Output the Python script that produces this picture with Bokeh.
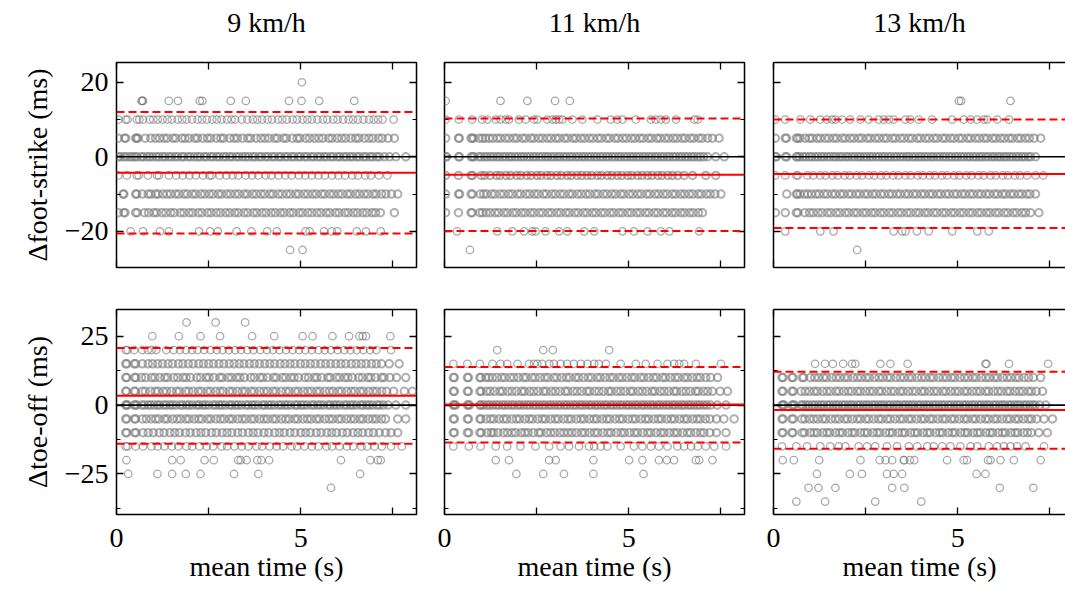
from bokeh.plotting import figure
from bokeh.layouts import column, row
from bokeh.models import LinearAxis, FixedTicker, Range1d, Span, ColumnDataSource
from bokeh.embed import file_html
from bokeh.resources import INLINE

FONT = "Liberation Serif"
FS = "28px"

titles = ["9 km/h", "11 km/h", "13 km/h"]
ylabels = ["Δfoot-strike (ms)", "Δtoe-off (ms)"]
xlabel = "mean time (s)"

x_ticks = [0, 2.5, 5, 7.5]
x_tick_labels = {0: "0", 2.5: "", 5: "5", 7.5: ""}
fs_ticks = [-20, 0, 20]
fs_minor = [-10, 10]
fs_tick_labels = {-20: "−20", 0: "0", 20: "20"}
to_ticks = [-25, 0, 25]
to_minor = [-37.5, -12.5, 12.5]
to_tick_labels = {-25: "−25", 0: "0", 25: "25"}
fs_yrange = (-29.7, 25.3)
to_yrange = (-39.7, 34.7)
x_full = 8.14

# mean difference (bias) and limits of agreement, per speed
fs_bias = [-4.3, -4.8, -4.6]
fs_upper = [12.0, 10.3, 10.0]
fs_lower = [-20.6, -19.9, -19.1]
to_bias = [3.4, 0.2, -1.8]
to_upper = [20.7, 13.8, 12.1]
to_lower = [-14.0, -13.6, -15.8]

# ---------------- foot-strike, 9 km/h ----------------
fs9_p20 = [5.03]
fs9_p15 = [0.68, 0.70, 0.72, 1.42, 1.67, 2.26, 2.33, 3.10, 3.51, 4.68, 5.02, 5.50, 6.45]
fs9_p10 = [0.05, 0.25, 0.30, 0.55, 0.62, 0.72, 0.9, 1.0, 1.12, 1.25, 1.38, 1.5, 1.66, 1.78, 1.9, 2.05, 2.2, 2.32, 2.45, 2.6, 2.72, 2.85, 3.0, 3.12, 3.22, 3.4, 3.55, 3.7, 3.82, 3.95, 4.1, 4.22, 4.38, 4.5, 4.62, 4.78, 4.9, 5.05, 5.18, 5.3, 5.45, 5.6, 5.72, 5.88, 6.0, 6.15, 6.3, 6.42, 6.55, 6.7, 6.85, 6.98, 7.1, 7.22, 7.52]
fs9_p5 = [0.05, 0.22, 0.25, 0.52, 0.55, 0.58, 0.78, 0.93, 1.06, 1.17, 1.29, 1.38, 1.53, 1.61, 1.77, 1.86, 1.97, 2.12, 2.2, 2.34, 2.47, 2.56, 2.71, 2.83, 2.91, 3.07, 3.19, 3.28, 3.42, 3.56, 3.64, 3.79, 3.92, 4.03, 4.14, 4.29, 4.37, 4.53, 4.61, 4.77, 4.9, 4.98, 5.13, 5.24, 5.37, 5.49, 5.6, 5.76, 5.85, 5.99, 6.11, 6.22, 6.36, 6.49, 6.58, 6.73, 6.85, 6.96, 7.11, 7.21, 7.37, 7.54]
fs9_z0 = [0.05, 0.11, 0.2, 0.27, 0.36, 0.43, 0.5, 0.56, 0.67, 0.73, 0.83, 0.9, 0.98, 1.08, 1.15, 1.25, 1.32, 1.42, 1.49, 1.59, 1.66, 1.77, 1.83, 1.94, 2.01, 2.11, 2.2, 2.27, 2.38, 2.44, 2.55, 2.62, 2.72, 2.79, 2.9, 2.97, 3.07, 3.14, 3.25, 3.32, 3.42, 3.5, 3.58, 3.69, 3.76, 3.87, 3.93, 4.04, 4.11, 4.22, 4.29, 4.4, 4.46, 4.57, 4.64, 4.75, 4.82, 4.93, 4.99, 5.1, 5.17, 5.28, 5.35, 5.46, 5.53, 5.63, 5.7, 5.81, 5.88, 5.99, 6.06, 6.17, 6.24, 6.34, 6.41, 6.52, 6.59, 6.7, 6.77, 6.88, 6.95, 7.06, 7.13, 7.27, 7.41, 7.58, 7.85]
fs9_m5 = [0.05, 0.28, 0.55, 0.6, 0.85, 1.1, 1.15, 1.42, 1.62, 1.8, 1.98, 2.15, 2.35, 2.52, 2.58, 2.8, 2.98, 3.15, 3.3, 3.5, 3.68, 3.85, 4.05, 4.2, 4.4, 4.58, 4.75, 4.95, 5.12, 5.3, 5.48, 5.65, 5.85, 6.02, 6.2, 6.4, 6.55, 6.75, 6.9, 7.12, 7.35]
fs9_m10 = [0.18, 0.2, 0.52, 0.55, 0.7, 0.86, 0.93, 1.06, 1.13, 1.26, 1.37, 1.47, 1.6, 1.69, 1.83, 1.92, 2.06, 2.15, 2.29, 2.39, 2.52, 2.62, 2.76, 2.85, 2.99, 3.09, 3.22, 3.32, 3.46, 3.55, 3.69, 3.79, 3.92, 4.02, 4.16, 4.25, 4.39, 4.49, 4.62, 4.72, 4.86, 4.95, 5.09, 5.19, 5.32, 5.42, 5.56, 5.65, 5.79, 5.89, 6.02, 6.12, 6.26, 6.35, 6.49, 6.59, 6.72, 6.82, 6.96, 7.05, 7.19, 7.31, 7.46, 7.63]
fs9_m15 = [0.05, 0.2, 0.23, 0.52, 0.56, 0.76, 0.87, 1.01, 1.09, 1.23, 1.34, 1.47, 1.57, 1.73, 1.83, 1.97, 2.07, 2.22, 2.32, 2.47, 2.57, 2.71, 2.82, 2.96, 3.07, 3.21, 3.31, 3.46, 3.56, 3.71, 3.81, 3.95, 4.06, 4.2, 4.31, 4.45, 4.55, 4.7, 4.8, 4.95, 5.05, 5.19, 5.3, 5.44, 5.55, 5.69, 5.79, 5.94, 6.04, 6.19, 6.29, 6.43, 6.54, 6.68, 6.79, 6.93, 7.03, 7.16, 7.54]
fs9_m20 = [0.38, 0.72, 1.18, 1.42, 2.24, 2.54, 2.75, 3.26, 3.66, 4.09, 4.35, 5.13, 5.24, 5.63, 5.84, 5.99, 6.52, 6.77, 7.17]
fs9_m25 = [4.71, 5.05]

# ---------------- foot-strike, 11 km/h ----------------
fs11_p15 = [0.03, 1.52, 2.25, 3.00, 3.40]
fs11_p10 = [0.03, 0.39, 0.75, 1.02, 1.16, 1.39, 1.52, 1.66, 1.75, 2.02, 2.20, 2.43, 2.52, 2.79, 2.93, 3.02, 3.11, 3.20, 3.47, 3.74, 4.15, 4.51, 4.69, 4.83, 5.19, 5.60, 5.73, 5.87, 6.01, 6.28, 6.78, 6.87]
fs11_p5 = [0.03, 0.38, 0.4, 0.72, 0.75, 0.79, 0.94, 1.03, 1.11, 1.21, 1.31, 1.43, 1.52, 1.65, 1.75, 1.88, 1.97, 2.11, 2.2, 2.34, 2.43, 2.56, 2.66, 2.79, 2.89, 3.02, 3.11, 3.25, 3.34, 3.48, 3.57, 3.7, 3.8, 3.93, 4.03, 4.16, 4.25, 4.39, 4.48, 4.62, 4.71, 4.84, 4.94, 5.07, 5.17, 5.3, 5.39, 5.53, 5.62, 5.76, 5.85, 5.98, 6.08, 6.21, 6.31, 6.44, 6.53, 6.67, 6.76, 6.9, 6.99, 7.14, 7.27, 7.45]
fs11_z0 = [0.03, 0.06, 0.38, 0.41, 0.72, 0.76, 0.8, 0.93, 1.0, 1.09, 1.16, 1.25, 1.33, 1.42, 1.49, 1.58, 1.66, 1.75, 1.82, 1.91, 1.99, 2.08, 2.15, 2.24, 2.32, 2.41, 2.48, 2.57, 2.65, 2.74, 2.81, 2.9, 2.98, 3.07, 3.14, 3.23, 3.31, 3.4, 3.47, 3.56, 3.64, 3.73, 3.8, 3.89, 3.97, 4.06, 4.13, 4.22, 4.3, 4.39, 4.46, 4.55, 4.63, 4.72, 4.79, 4.88, 4.96, 5.05, 5.12, 5.21, 5.29, 5.38, 5.45, 5.54, 5.62, 5.71, 5.78, 5.87, 5.95, 6.04, 6.11, 6.2, 6.28, 6.37, 6.44, 6.53, 6.61, 6.7, 6.77, 6.86, 6.94, 7.03, 7.14, 7.36, 7.59]
fs11_m5 = [0.03, 0.38, 0.72, 0.76, 1.0, 1.09, 1.24, 1.41, 1.51, 1.67, 1.79, 1.96, 2.07, 2.23, 2.35, 2.51, 2.62, 2.78, 2.89, 3.05, 3.17, 3.33, 3.44, 3.6, 3.72, 3.87, 3.99, 4.15, 4.26, 4.42, 4.54, 4.69, 4.81, 4.97, 5.08, 5.24, 5.36, 5.51, 5.63, 5.79, 5.9, 6.06, 6.18, 6.33, 6.5, 6.73, 7.09, 7.36]
fs11_m10 = [0.03, 0.38, 0.41, 0.72, 0.76, 0.97, 1.06, 1.14, 1.28, 1.37, 1.51, 1.61, 1.74, 1.84, 1.98, 2.07, 2.21, 2.31, 2.44, 2.54, 2.68, 2.77, 2.91, 3.01, 3.14, 3.24, 3.38, 3.47, 3.61, 3.71, 3.84, 3.94, 4.08, 4.17, 4.31, 4.41, 4.54, 4.64, 4.78, 4.87, 5.01, 5.11, 5.24, 5.34, 5.48, 5.57, 5.71, 5.81, 5.94, 6.04, 6.18, 6.27, 6.41, 6.51, 6.64, 6.74, 6.88, 6.97, 7.11, 7.21, 7.34, 7.5]
fs11_m15 = [0.03, 0.38, 0.72, 0.75, 0.96, 1.03, 1.13, 1.24, 1.37, 1.47, 1.61, 1.71, 1.85, 1.95, 2.09, 2.19, 2.33, 2.43, 2.57, 2.67, 2.81, 2.91, 3.05, 3.15, 3.29, 3.39, 3.53, 3.63, 3.77, 3.87, 4.01, 4.11, 4.25, 4.35, 4.49, 4.59, 4.73, 4.83, 4.97, 5.07, 5.21, 5.31, 5.45, 5.55, 5.69, 5.79, 5.93, 6.03, 6.17, 6.27, 6.41, 6.51, 6.65, 6.75, 6.89, 7.0]
fs11_m20 = [0.34, 1.43, 1.84, 2.16, 2.38, 2.47, 2.74, 3.11, 3.33, 3.79, 4.06, 4.83, 5.14, 5.51, 5.87, 6.10, 6.91]
fs11_m25 = [0.69]

# ---------------- foot-strike, 13 km/h ----------------
fs13_p15 = [5.03, 5.09, 6.43]
fs13_p10 = [0.05, 0.32, 0.73, 1.0, 1.27, 1.45, 1.59, 1.68, 1.86, 2.08, 2.36, 2.58, 2.85, 2.99, 3.13, 3.26, 3.58, 3.71, 3.94, 4.30, 4.85, 5.16, 5.35, 5.53, 5.71, 5.80, 6.07, 6.39]
fs13_p5 = [0.05, 0.32, 0.35, 0.62, 0.66, 0.72, 0.86, 0.97, 1.05, 1.18, 1.27, 1.4, 1.5, 1.63, 1.72, 1.86, 1.95, 2.08, 2.18, 2.31, 2.4, 2.54, 2.63, 2.76, 2.86, 2.99, 3.08, 3.22, 3.31, 3.44, 3.54, 3.67, 3.76, 3.9, 3.99, 4.12, 4.22, 4.35, 4.44, 4.58, 4.67, 4.8, 4.9, 5.03, 5.12, 5.26, 5.35, 5.48, 5.58, 5.71, 5.8, 5.94, 6.03, 6.16, 6.26, 6.39, 6.48, 6.62, 6.71, 6.84, 6.94, 7.07, 7.25]
fs13_z0 = [0.05, 0.08, 0.32, 0.36, 0.62, 0.65, 0.71, 0.8, 0.88, 0.97, 1.04, 1.13, 1.21, 1.3, 1.37, 1.46, 1.54, 1.63, 1.7, 1.79, 1.87, 1.96, 2.03, 2.12, 2.2, 2.29, 2.36, 2.45, 2.53, 2.62, 2.69, 2.78, 2.86, 2.95, 3.02, 3.11, 3.19, 3.28, 3.35, 3.44, 3.52, 3.61, 3.68, 3.77, 3.85, 3.94, 4.01, 4.1, 4.18, 4.27, 4.34, 4.43, 4.51, 4.6, 4.67, 4.76, 4.84, 4.93, 5.0, 5.09, 5.17, 5.26, 5.33, 5.42, 5.5, 5.59, 5.66, 5.75, 5.83, 5.92, 5.99, 6.08, 6.16, 6.25, 6.32, 6.41, 6.49, 6.58, 6.65, 6.74, 6.82, 6.91, 6.98, 7.11]
fs13_m5 = [0.05, 0.32, 0.62, 0.66, 0.92, 1.08, 1.27, 1.41, 1.6, 1.74, 1.93, 2.07, 2.26, 2.4, 2.59, 2.73, 2.92, 3.06, 3.25, 3.39, 3.58, 3.72, 3.91, 4.05, 4.24, 4.38, 4.57, 4.71, 4.9, 5.04, 5.23, 5.37, 5.56, 5.7, 5.89, 6.03, 6.22, 6.36, 6.55, 6.69, 6.88, 7.11, 7.32]
fs13_m10 = [0.36, 0.62, 0.65, 0.72, 0.84, 0.93, 1.03, 1.15, 1.24, 1.37, 1.46, 1.59, 1.68, 1.81, 1.9, 2.03, 2.12, 2.25, 2.34, 2.47, 2.56, 2.69, 2.78, 2.91, 3.0, 3.13, 3.22, 3.35, 3.44, 3.57, 3.66, 3.79, 3.88, 4.01, 4.1, 4.23, 4.32, 4.45, 4.54, 4.67, 4.76, 4.89, 4.98, 5.11, 5.2, 5.33, 5.42, 5.55, 5.64, 5.77, 5.86, 5.99, 6.08, 6.21, 6.3, 6.43, 6.52, 6.65, 6.74, 6.87, 6.96, 7.11]
fs13_m15 = [0.05, 0.32, 0.62, 0.66, 0.85, 0.98, 1.08, 1.21, 1.32, 1.46, 1.56, 1.7, 1.8, 1.94, 2.04, 2.18, 2.28, 2.42, 2.52, 2.66, 2.76, 2.9, 3.0, 3.14, 3.24, 3.38, 3.48, 3.62, 3.72, 3.86, 3.96, 4.1, 4.2, 4.34, 4.44, 4.58, 4.68, 4.82, 4.92, 5.06, 5.16, 5.3, 5.4, 5.54, 5.64, 5.78, 5.88, 6.02, 6.12, 6.26, 6.36, 6.5, 6.6, 6.74, 6.84, 6.97, 7.2]
fs13_m20 = [0.32, 1.27, 1.63, 3.26, 3.49, 3.58, 3.89, 4.21, 4.85, 5.53, 5.84]
fs13_m25 = [2.27]

# ---------------- toe-off, 9 km/h ----------------
to9_p30 = [1.90, 2.69, 3.49]
to9_p25 = [0.97, 1.69, 2.28, 2.81, 3.68, 4.28, 5.05, 5.32, 5.86, 6.31, 6.59, 6.68, 6.77, 7.43]
to9_p20 = [0.25, 0.3, 0.48, 0.7, 0.85, 0.95, 1.08, 1.35, 1.55, 1.72, 1.88, 2.05, 2.2, 2.38, 2.55, 2.72, 2.88, 3.05, 3.22, 3.38, 3.55, 3.72, 3.9, 4.08, 4.25, 4.42, 4.6, 4.78, 4.95, 5.12, 5.3, 5.48, 5.65, 5.82, 6.0, 6.18, 6.35, 6.52, 6.7, 6.88, 7.05, 7.45]
to9_p15 = [0.25, 0.28, 0.48, 0.52, 0.7, 0.86, 0.98, 1.12, 1.25, 1.4, 1.52, 1.68, 1.8, 1.95, 2.08, 2.23, 2.36, 2.5, 2.63, 2.78, 2.91, 3.06, 3.19, 3.33, 3.46, 3.61, 3.74, 3.88, 4.02, 4.16, 4.29, 4.44, 4.57, 4.71, 4.84, 4.99, 5.12, 5.26, 5.39, 5.54, 5.67, 5.81, 5.95, 6.09, 6.22, 6.37, 6.5, 6.64, 6.77, 6.92, 7.05, 7.19, 7.4, 7.67]
to9_p10 = [0.25, 0.28, 0.49, 0.53, 0.68, 0.79, 0.95, 1.04, 1.17, 1.31, 1.39, 1.55, 1.66, 1.8, 1.89, 2.01, 2.18, 2.28, 2.43, 2.51, 2.64, 2.8, 2.87, 3.03, 3.12, 3.26, 3.35, 3.47, 3.64, 3.74, 3.89, 3.97, 4.1, 4.26, 4.34, 4.5, 4.59, 4.73, 4.82, 4.94, 5.11, 5.21, 5.36, 5.44, 5.57, 5.73, 5.8, 5.96, 6.05, 6.19, 6.28, 6.4, 6.57, 6.67, 6.82, 6.9, 7.03, 7.19, 7.26, 7.42, 7.6, 7.85]
to9_p5 = [0.25, 0.27, 0.48, 0.51, 0.7, 0.78, 0.92, 1.05, 1.13, 1.27, 1.36, 1.49, 1.63, 1.71, 1.87, 1.96, 2.08, 2.22, 2.31, 2.46, 2.55, 2.69, 2.81, 2.9, 3.06, 3.15, 3.28, 3.41, 3.5, 3.65, 3.74, 3.88, 4.0, 4.1, 4.24, 4.33, 4.47, 4.6, 4.69, 4.84, 4.93, 5.07, 5.19, 5.29, 5.43, 5.52, 5.66, 5.78, 5.88, 6.02, 6.11, 6.25, 6.37, 6.47, 6.61, 6.7, 6.84, 6.96, 7.06, 7.2, 7.33, 7.52, 7.81, 8.03]
to9_z0 = [0.25, 0.27, 0.3, 0.48, 0.51, 0.55, 0.69, 0.76, 0.86, 0.93, 1.02, 1.11, 1.17, 1.28, 1.35, 1.45, 1.52, 1.61, 1.73, 1.8, 1.9, 1.97, 2.06, 2.18, 2.24, 2.34, 2.41, 2.5, 2.62, 2.69, 2.79, 2.86, 2.95, 3.07, 3.13, 3.23, 3.3, 3.39, 3.51, 3.58, 3.68, 3.75, 3.84, 3.96, 4.02, 4.12, 4.19, 4.28, 4.4, 4.47, 4.57, 4.64, 4.73, 4.85, 4.91, 5.01, 5.08, 5.17, 5.29, 5.36, 5.46, 5.53, 5.62, 5.74, 5.8, 5.9, 5.97, 6.06, 6.18, 6.25, 6.35, 6.42, 6.51, 6.63, 6.69, 6.79, 6.86, 6.95, 7.07, 7.14, 7.24, 7.37, 7.58, 7.85]
to9_m5 = [0.25, 0.28, 0.49, 0.52, 0.7, 0.81, 0.94, 1.06, 1.15, 1.3, 1.38, 1.52, 1.64, 1.74, 1.88, 1.97, 2.11, 2.23, 2.32, 2.47, 2.56, 2.7, 2.82, 2.92, 3.06, 3.15, 3.29, 3.41, 3.51, 3.65, 3.74, 3.88, 4.0, 4.1, 4.24, 4.33, 4.47, 4.59, 4.69, 4.83, 4.92, 5.06, 5.18, 5.28, 5.42, 5.51, 5.65, 5.77, 5.87, 6.01, 6.1, 6.24, 6.36, 6.46, 6.6, 6.69, 6.83, 6.95, 7.05, 7.19, 7.3, 7.63, 7.85]
to9_m10 = [0.25, 0.28, 0.49, 0.53, 0.72, 0.86, 1.0, 1.16, 1.29, 1.45, 1.58, 1.71, 1.87, 2.0, 2.16, 2.29, 2.42, 2.58, 2.71, 2.87, 3.0, 3.13, 3.29, 3.42, 3.58, 3.71, 3.84, 4.0, 4.13, 4.29, 4.42, 4.55, 4.71, 4.84, 5.0, 5.13, 5.26, 5.42, 5.55, 5.71, 5.84, 5.97, 6.13, 6.26, 6.42, 6.55, 6.68, 6.84, 6.97, 7.13, 7.3, 7.45, 7.63]
to9_m15 = [0.25, 0.3, 0.52, 0.72, 0.95, 1.12, 1.3, 1.5, 1.68, 1.9, 2.05, 2.25, 2.45, 2.62, 2.85, 3.0, 3.2, 3.4, 3.58, 3.8, 3.95, 4.15, 4.35, 4.52, 4.75, 4.9, 5.1, 5.3, 5.48, 5.7, 5.85, 6.05, 6.25, 6.42, 6.65, 6.8, 7.0, 7.2, 7.45, 7.74]
to9_m20 = [0.27, 1.51, 1.74, 2.39, 2.64, 3.30, 3.37, 3.53, 3.82, 3.93, 4.14, 6.09, 6.89, 7.09, 7.17]
to9_m25 = [0.32, 1.11, 1.51, 1.88, 2.28, 3.19, 3.85, 6.61]
to9_m30 = [5.82]

# ---------------- toe-off, 11 km/h ----------------
to11_p20 = [1.43, 2.68, 2.94, 4.47]
to11_p15 = [0.24, 0.62, 0.96, 1.30, 1.52, 1.70, 1.98, 2.29, 2.43, 2.52, 2.65, 2.84, 2.97, 3.15, 3.33, 3.51, 3.70, 3.88, 4.06, 4.19, 4.38, 4.78, 5.19, 5.46, 5.78, 6.05, 6.23, 6.37, 6.50, 6.82, 7.50]
to11_p10 = [0.24, 0.27, 0.62, 0.65, 0.96, 0.99, 1.12, 1.2, 1.3, 1.42, 1.55, 1.64, 1.78, 1.88, 2.0, 2.14, 2.22, 2.37, 2.46, 2.59, 2.72, 2.81, 2.96, 3.05, 3.18, 3.31, 3.4, 3.55, 3.64, 3.77, 3.9, 3.99, 4.14, 4.23, 4.36, 4.49, 4.58, 4.73, 4.82, 4.95, 5.08, 5.17, 5.32, 5.41, 5.54, 5.67, 5.76, 5.91, 6.0, 6.13, 6.26, 6.35, 6.5, 6.59, 6.72, 6.85, 6.94, 7.09, 7.22, 7.41]
to11_p5 = [0.24, 0.27, 0.62, 0.65, 0.96, 1.0, 1.14, 1.24, 1.36, 1.5, 1.58, 1.72, 1.83, 1.95, 2.09, 2.17, 2.31, 2.42, 2.54, 2.68, 2.76, 2.9, 3.01, 3.13, 3.27, 3.35, 3.49, 3.6, 3.72, 3.86, 3.94, 4.08, 4.19, 4.31, 4.45, 4.53, 4.67, 4.78, 4.9, 5.04, 5.12, 5.26, 5.37, 5.49, 5.63, 5.71, 5.85, 5.96, 6.08, 6.22, 6.3, 6.44, 6.55, 6.67, 6.81, 6.89, 7.03, 7.14, 7.27, 7.48, 7.68]
to11_z0 = [0.24, 0.27, 0.3, 0.62, 0.65, 0.68, 0.96, 0.99, 1.06, 1.15, 1.22, 1.31, 1.4, 1.47, 1.57, 1.64, 1.73, 1.82, 1.89, 1.99, 2.06, 2.15, 2.24, 2.31, 2.41, 2.48, 2.57, 2.66, 2.73, 2.83, 2.9, 2.99, 3.08, 3.15, 3.25, 3.32, 3.41, 3.5, 3.57, 3.67, 3.74, 3.83, 3.92, 3.99, 4.09, 4.16, 4.25, 4.34, 4.41, 4.51, 4.58, 4.67, 4.76, 4.83, 4.93, 5.0, 5.09, 5.18, 5.25, 5.35, 5.42, 5.51, 5.6, 5.67, 5.77, 5.84, 5.93, 6.02, 6.09, 6.19, 6.26, 6.35, 6.44, 6.51, 6.61, 6.68, 6.77, 6.86, 6.93, 7.03, 7.12, 7.22, 7.4, 7.64]
to11_m5 = [0.24, 0.27, 0.62, 0.65, 0.96, 0.99, 1.13, 1.25, 1.34, 1.48, 1.6, 1.69, 1.83, 1.95, 2.04, 2.18, 2.3, 2.39, 2.53, 2.65, 2.74, 2.88, 3.0, 3.09, 3.23, 3.35, 3.44, 3.58, 3.7, 3.79, 3.93, 4.05, 4.14, 4.28, 4.4, 4.49, 4.63, 4.75, 4.84, 4.98, 5.1, 5.19, 5.33, 5.45, 5.54, 5.68, 5.8, 5.89, 6.03, 6.15, 6.24, 6.38, 6.5, 6.59, 6.73, 6.85, 6.94, 7.08, 7.2, 7.38, 7.58, 7.86]
to11_m10 = [0.24, 0.27, 0.62, 0.66, 0.96, 1.0, 1.16, 1.27, 1.33, 1.45, 1.6, 1.71, 1.83, 1.93, 2.08, 2.18, 2.27, 2.41, 2.55, 2.62, 2.77, 2.88, 2.99, 3.13, 3.24, 3.35, 3.46, 3.58, 3.72, 3.81, 3.94, 4.07, 4.16, 4.3, 4.43, 4.52, 4.66, 4.79, 4.88, 5.02, 5.15, 5.24, 5.38, 5.51, 5.6, 5.74, 5.87, 5.96, 6.1, 6.23, 6.32, 6.46, 6.59, 6.68, 6.82, 6.95, 7.04, 7.2, 7.38, 7.64]
to11_m15 = [0.24, 0.66, 0.98, 1.39, 1.70, 2.06, 2.47, 2.84, 3.15, 3.38, 3.65, 3.92, 4.06, 4.24, 4.42, 4.78, 5.14, 5.37, 5.60, 5.82, 6.05, 6.32, 6.50, 6.69, 6.87, 7.09, 7.32, 7.64]
to11_m20 = [1.39, 1.75, 2.84, 3.02, 4.04, 5.01, 5.37, 5.82, 6.03, 6.23, 6.82, 6.91, 7.27]
to11_m25 = [1.95, 2.68, 3.24, 4.04, 5.40]

# ---------------- toe-off, 13 km/h ----------------
to13_p15 = [1.13, 1.40, 1.61, 1.89, 2.13, 2.22, 2.90, 3.17, 3.64, 5.75, 5.78, 6.39, 7.45]
to13_p10 = [0.23, 0.26, 0.5, 0.53, 0.78, 0.82, 1.0, 1.12, 1.22, 1.35, 1.44, 1.58, 1.7, 1.8, 1.93, 2.02, 2.16, 2.28, 2.38, 2.51, 2.6, 2.74, 2.86, 2.96, 3.09, 3.18, 3.32, 3.44, 3.54, 3.67, 3.76, 3.9, 4.02, 4.12, 4.25, 4.34, 4.48, 4.6, 4.7, 4.83, 4.92, 5.06, 5.18, 5.28, 5.41, 5.5, 5.64, 5.76, 5.86, 5.99, 6.08, 6.22, 6.34, 6.44, 6.57, 6.66, 6.8, 6.92, 7.05, 7.25]
to13_p5 = [0.23, 0.26, 0.5, 0.54, 0.75, 0.86, 0.97, 1.1, 1.19, 1.33, 1.45, 1.55, 1.69, 1.78, 1.91, 2.03, 2.13, 2.27, 2.36, 2.49, 2.61, 2.71, 2.85, 2.94, 3.07, 3.19, 3.29, 3.43, 3.52, 3.65, 3.77, 3.87, 4.01, 4.1, 4.23, 4.35, 4.45, 4.59, 4.68, 4.81, 4.93, 5.03, 5.17, 5.26, 5.39, 5.51, 5.61, 5.75, 5.84, 5.97, 6.09, 6.19, 6.33, 6.42, 6.55, 6.67, 6.77, 6.91, 7.0, 7.13, 7.3]
to13_z0 = [0.23, 0.26, 0.29, 0.5, 0.53, 0.57, 0.75, 0.8, 0.88, 0.96, 1.05, 1.12, 1.21, 1.29, 1.36, 1.46, 1.53, 1.62, 1.7, 1.77, 1.87, 1.94, 2.03, 2.11, 2.18, 2.28, 2.35, 2.44, 2.52, 2.59, 2.69, 2.76, 2.85, 2.93, 3.0, 3.1, 3.17, 3.26, 3.34, 3.41, 3.51, 3.58, 3.67, 3.75, 3.82, 3.92, 3.99, 4.08, 4.16, 4.23, 4.33, 4.4, 4.49, 4.57, 4.64, 4.74, 4.81, 4.9, 4.98, 5.05, 5.15, 5.22, 5.31, 5.39, 5.46, 5.56, 5.63, 5.72, 5.8, 5.87, 5.97, 6.04, 6.13, 6.21, 6.28, 6.38, 6.45, 6.54, 6.62, 6.69, 6.79, 6.86, 6.95, 7.03, 7.1, 7.22, 7.39]
to13_m5 = [0.23, 0.26, 0.5, 0.54, 0.77, 0.85, 0.98, 1.09, 1.2, 1.33, 1.42, 1.56, 1.68, 1.78, 1.92, 2.01, 2.14, 2.27, 2.36, 2.5, 2.59, 2.72, 2.85, 2.94, 3.08, 3.17, 3.3, 3.43, 3.52, 3.66, 3.75, 3.88, 4.01, 4.1, 4.24, 4.33, 4.46, 4.59, 4.68, 4.82, 4.91, 5.04, 5.17, 5.26, 5.4, 5.49, 5.62, 5.75, 5.84, 5.98, 6.07, 6.2, 6.33, 6.42, 6.56, 6.65, 6.78, 6.91, 7.0, 7.14, 7.34, 7.57]
to13_m10 = [0.23, 0.26, 0.5, 0.53, 0.78, 0.84, 1.0, 1.1, 1.19, 1.34, 1.45, 1.53, 1.68, 1.79, 1.87, 2.02, 2.13, 2.21, 2.36, 2.47, 2.55, 2.7, 2.81, 2.89, 3.04, 3.15, 3.23, 3.38, 3.49, 3.57, 3.72, 3.83, 3.91, 4.06, 4.17, 4.25, 4.4, 4.51, 4.59, 4.74, 4.85, 4.93, 5.08, 5.19, 5.27, 5.42, 5.53, 5.61, 5.76, 5.87, 5.95, 6.1, 6.21, 6.29, 6.44, 6.55, 6.63, 6.78, 6.89, 7.0, 7.2, 7.43]
to13_m15 = [0.23, 0.62, 0.91, 1.27, 1.54, 1.77, 1.95, 2.31, 2.54, 2.76, 3.08, 3.35, 3.67, 3.90, 4.17, 4.35, 4.58, 4.80, 5.07, 5.35, 5.53, 5.84, 6.07, 6.25, 6.43, 6.61, 6.84, 7.34]
to13_m20 = [0.25, 0.55, 1.24, 2.36, 2.88, 3.04, 3.22, 3.53, 3.55, 3.70, 3.82, 4.71, 5.16, 5.25, 5.82, 5.89, 6.16, 6.52, 7.25]
to13_m25 = [1.18, 2.07, 2.40, 3.08, 3.26, 3.49, 5.51, 5.75]
to13_m30 = [0.95, 1.22, 1.68, 3.22, 3.55, 6.14, 7.05]
to13_m35 = [0.62, 1.40, 2.76, 4.01]

panels_fs = [
    [(20, fs9_p20), (15, fs9_p15), (10, fs9_p10), (5, fs9_p5), (0, fs9_z0),
     (-5, fs9_m5), (-10, fs9_m10), (-15, fs9_m15), (-20, fs9_m20), (-25, fs9_m25)],
    [(15, fs11_p15), (10, fs11_p10), (5, fs11_p5), (0, fs11_z0), (-5, fs11_m5),
     (-10, fs11_m10), (-15, fs11_m15), (-20, fs11_m20), (-25, fs11_m25)],
    [(15, fs13_p15), (10, fs13_p10), (5, fs13_p5), (0, fs13_z0), (-5, fs13_m5),
     (-10, fs13_m10), (-15, fs13_m15), (-20, fs13_m20), (-25, fs13_m25)],
]
panels_to = [
    [(30, to9_p30), (25, to9_p25), (20, to9_p20), (15, to9_p15), (10, to9_p10), (5, to9_p5),
     (0, to9_z0), (-5, to9_m5), (-10, to9_m10), (-15, to9_m15), (-20, to9_m20),
     (-25, to9_m25), (-30, to9_m30)],
    [(20, to11_p20), (15, to11_p15), (10, to11_p10), (5, to11_p5), (0, to11_z0),
     (-5, to11_m5), (-10, to11_m10), (-15, to11_m15), (-20, to11_m20), (-25, to11_m25)],
    [(15, to13_p15), (10, to13_p10), (5, to13_p5), (0, to13_z0), (-5, to13_m5),
     (-10, to13_m10), (-15, to13_m15), (-20, to13_m20), (-25, to13_m25),
     (-30, to13_m30), (-35, to13_m35)],
]
# rows where heavy over-plotting makes the rings merge into a grey band
dense_fs = [[5, 0, -10, -15], [5, 0, -5, -10, -15], [5, 0, -10, -15]]
dense_to = [[15, 10, 5, 0, -5, -10], [10, 5, 0, -5, -10], [10, 5, 0, -5, -10]]


def style_axis(ax, ticker, overrides, show_labels, standoff=8):
    ax.ticker = ticker
    ax.major_tick_in = 7
    ax.major_tick_out = 0
    ax.minor_tick_in = 4
    ax.minor_tick_out = 0
    ax.major_tick_line_color = "black"
    ax.minor_tick_line_color = "black"
    ax.major_tick_line_width = 1.3
    ax.minor_tick_line_width = 1.1
    ax.axis_line_color = None
    if show_labels:
        ax.major_label_overrides = overrides
        ax.major_label_text_font = FONT
        ax.major_label_text_font_size = FS
        ax.major_label_text_color = "black"
        ax.major_label_standoff = standoff
    else:
        ax.major_label_text_color = None
        ax.major_label_text_font_size = "1px"
        ax.major_label_standoff = 0


def label_style(ax, text, standoff):
    ax.axis_label = text
    ax.axis_label_text_font = FONT
    ax.axis_label_text_font_size = FS
    ax.axis_label_text_font_style = "normal"
    ax.axis_label_text_color = "black"
    ax.axis_label_standoff = standoff


def make_panel(levels, dense, r, c, bias, upper, lower):
    widths = [430, 329, 306]
    b_left = [116, 14, 14]
    b_right = [14, 15, 0]
    heights = [287, 302]
    b_top = [62, 22]
    b_bottom = [20, 75]
    frame_w = widths[c] - b_left[c] - b_right[c]
    x_end = x_full * frame_w / 300.0
    yr = fs_yrange if r == 0 else to_yrange
    p = figure(width=widths[c], height=heights[r],
               x_range=Range1d(0, x_end), y_range=Range1d(*yr),
               output_backend="svg", toolbar_location=None,
               min_border_left=b_left[c], min_border_right=b_right[c],
               min_border_top=b_top[r], min_border_bottom=b_bottom[r],
               background_fill_color="white", border_fill_color="white")
    p.xgrid.visible = False
    p.ygrid.visible = False
    bottom_ax = p.xaxis[0]
    left_ax = p.yaxis[0]
    last = (c == 2)
    if last:
        p.outline_line_color = None
    else:
        p.outline_line_color = "black"
        p.outline_line_width = 1.5

    xt = FixedTicker(ticks=x_ticks)
    if r == 0:
        yt = FixedTicker(ticks=fs_ticks, minor_ticks=fs_minor)
        ylab = fs_tick_labels
    else:
        yt = FixedTicker(ticks=to_ticks, minor_ticks=to_minor)
        ylab = to_tick_labels

    style_axis(bottom_ax, xt, x_tick_labels, r == 1, standoff=14)
    style_axis(left_ax, yt, ylab, c == 0, standoff=8)

    top_ax = LinearAxis()
    style_axis(top_ax, xt, {}, False)
    p.add_layout(top_ax, "above")
    if not last:
        right_ax = LinearAxis()
        style_axis(right_ax, yt, {}, False)
        p.add_layout(right_ax, "right")
    else:
        for ax in (bottom_ax, left_ax, top_ax):
            ax.axis_line_color = "black"
            ax.axis_line_width = 1.5

    if r == 0:
        label_style(top_ax, titles[c], 25)
    if r == 1:
        label_style(bottom_ax, xlabel, 1)
    if c == 0:
        label_style(left_ax, ylabels[r], 9)

    sx, sy, dx, dy = [], [], [], []
    for lvl, xv in levels:
        if lvl in dense:
            dx.extend(xv)
            dy.extend([lvl] * len(xv))
        else:
            sx.extend(xv)
            sy.extend([lvl] * len(xv))
    sparse_src = ColumnDataSource(data=dict(x=sx, y=sy))
    dense_src = ColumnDataSource(data=dict(x=dx, y=dy))
    p.scatter(x="x", y="y", source=sparse_src, marker="circle", size=7.5,
              fill_color=None, line_color="#6e6e6e", line_alpha=0.6, line_width=1.25)
    p.scatter(x="x", y="y", source=dense_src, marker="circle", size=7.5,
              fill_color=None, line_color="#7a7a7a", line_alpha=0.6, line_width=2.0)

    p.add_layout(Span(location=0, dimension="width", line_color="black", line_width=1.6))
    p.add_layout(Span(location=bias, dimension="width", line_color="red", line_width=2))
    p.add_layout(Span(location=upper, dimension="width", line_color="red", line_width=2,
                      line_dash="8 4"))
    p.add_layout(Span(location=lower, dimension="width", line_color="red", line_width=2,
                      line_dash="8 4"))
    return p


top = [make_panel(panels_fs[c], dense_fs[c], 0, c, fs_bias[c], fs_upper[c], fs_lower[c])
       for c in range(3)]
bot = [make_panel(panels_to[c], dense_to[c], 1, c, to_bias[c], to_upper[c], to_lower[c])
       for c in range(3)]

layout = column(row(*top), row(*bot))
open("out.html", "w").write(file_html(layout, INLINE))
